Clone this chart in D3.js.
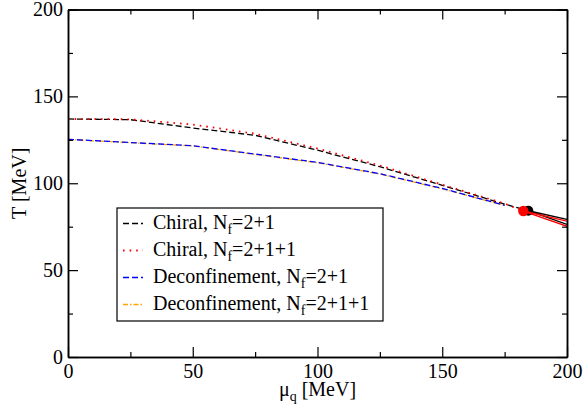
<!DOCTYPE html>
<html>
<head>
<meta charset="utf-8">
<script src="https://cdn.jsdelivr.net/npm/d3@7"></script>
<style>
  html, body { margin: 0; padding: 0; background: #fff; }
  svg text { font-family: "Liberation Serif", "Times New Roman", serif; fill: #000; }
</style>
</head>
<body>
<svg id="chart" width="583" height="410"></svg>
<script>
// ---- data ----
const muChiral21  = [0, 25, 50, 75, 100, 125, 150, 175, 184.5];
const TChiral21   = [137, 136.6, 131.8, 127.6, 119, 109.5, 98.8, 88, 84.2];
const muChiral211 = [0, 25, 50, 75, 100, 125, 150, 175, 182.5];
const TChiral211  = [137, 136.8, 133.8, 128.5, 120, 110.2, 99.2, 88.3, 84.0];
const muDeconf21  = [0, 50, 75, 100, 125, 150, 175];
const TDeconf21   = [125.3, 121.6, 116.8, 112, 105.5, 97, 87.3];
const muDeconf211 = [0, 50, 75, 100, 125, 150, 175];
const TDeconf211  = [125.2, 121.5, 116.6, 111.8, 105.3, 96.8, 87.2];
// critical end points and first-order lines
const cpMu = [184.5, 182.5];
const cpT  = [84.2, 84.0];
const firstOrderEndMu = [200, 200];
const firstOrderBlackT = [79.2, 76.3];
const firstOrderRedT   = [78.2, 75.2];

const xMajor = [0, 50, 100, 150, 200];
const xMinor = [25, 75, 125, 175];
const yMajor = [0, 50, 100, 150, 200];
const yMinor = [25, 75, 125, 175];

const legendLabels = [
  ["Chiral, N", "f", "=2+1"],
  ["Chiral, N", "f", "=2+1+1"],
  ["Deconfinement, N", "f", "=2+1"],
  ["Deconfinement, N", "f", "=2+1+1"]
];

// ---- layout ----
const svg = d3.select("#chart");
const L = 68, R = 567, T = 9.5, B = 357;
const x = d3.scaleLinear().domain([0, 200]).range([L, R]);
const y = d3.scaleLinear().domain([0, 200]).range([B, T]);

const styles = [
  {color: "#000000", dash: "6,3", width: 1.3},
  {color: "#ff0000", dash: "1.6,5", width: 1.8},
  {color: "#0000ff", dash: "6,3", width: 1.3},
  {color: "#ffa500", dash: "5,2,1.5,2", width: 1.3}
];

svg.append("clipPath").attr("id", "plotclip")
  .append("rect").attr("x", L).attr("y", T).attr("width", R - L).attr("height", B - T);

const g = svg.append("g").attr("clip-path", "url(#plotclip)");
const line = d3.line().x(d => x(d[0])).y(d => y(d[1]));
const zip = (a, b) => a.map((v, i) => [v, b[i]]);

const series = [
  {mu: muDeconf211, t: TDeconf211, s: styles[3]},
  {mu: muDeconf21,  t: TDeconf21,  s: styles[2]},
  {mu: muChiral21,  t: TChiral21,  s: styles[0]},
  {mu: muChiral211, t: TChiral211, s: styles[1]}
];
series.forEach(d => {
  g.append("path").datum(zip(d.mu, d.t))
    .attr("d", line).attr("fill", "none")
    .attr("stroke", d.s.color).attr("stroke-width", d.s.width)
    .attr("stroke-dasharray", d.s.dash);
});

// critical points and first-order lines
g.append("circle").attr("cx", x(cpMu[0])).attr("cy", y(cpT[0])).attr("r", 5).attr("fill", "#000");
firstOrderBlackT.forEach(t => {
  g.append("path").datum([[cpMu[0], cpT[0]], [firstOrderEndMu[0], t]])
    .attr("d", line).attr("fill", "none").attr("stroke", "#000").attr("stroke-width", 1.4);
});
g.append("circle").attr("cx", x(cpMu[1])).attr("cy", y(cpT[1])).attr("r", 5.2).attr("fill", "#ff0000");
firstOrderRedT.forEach(t => {
  g.append("path").datum([[cpMu[1], cpT[1]], [firstOrderEndMu[1], t]])
    .attr("d", line).attr("fill", "none").attr("stroke", "#ff0000").attr("stroke-width", 1.4);
});

// ---- axes ----
function styleAxis(sel) {
  sel.selectAll("path.domain").attr("stroke", "#000").attr("stroke-width", 1.5);
  sel.selectAll(".tick line").attr("stroke", "#000").attr("stroke-width", 1.2);
  sel.selectAll("text").attr("font-size", 20).attr("font-family", "Liberation Serif, serif").attr("fill", "#000");
}
const ax = [
  svg.append("g").attr("transform", `translate(0,${B})`)
    .call(d3.axisBottom(x).tickValues(xMajor).tickSize(-10).tickSizeOuter(0).tickPadding(7).tickFormat(d3.format("d"))),
  svg.append("g").attr("transform", `translate(0,${B})`)
    .call(d3.axisBottom(x).tickValues(xMinor).tickSize(-5).tickSizeOuter(0).tickFormat("")),
  svg.append("g").attr("transform", `translate(0,${T})`)
    .call(d3.axisTop(x).tickValues(xMajor).tickSize(-10).tickSizeOuter(0).tickFormat("")),
  svg.append("g").attr("transform", `translate(0,${T})`)
    .call(d3.axisTop(x).tickValues(xMinor).tickSize(-5).tickSizeOuter(0).tickFormat("")),
  svg.append("g").attr("transform", `translate(${L},0)`)
    .call(d3.axisLeft(y).tickValues(yMajor).tickSize(-10).tickSizeOuter(0).tickPadding(5).tickFormat(d3.format("d"))),
  svg.append("g").attr("transform", `translate(${L},0)`)
    .call(d3.axisLeft(y).tickValues(yMinor).tickSize(-5).tickSizeOuter(0).tickFormat("")),
  svg.append("g").attr("transform", `translate(${R},0)`)
    .call(d3.axisRight(y).tickValues(yMajor).tickSize(-10).tickSizeOuter(0).tickFormat("")),
  svg.append("g").attr("transform", `translate(${R},0)`)
    .call(d3.axisRight(y).tickValues(yMinor).tickSize(-5).tickSizeOuter(0).tickFormat(""))
];
ax.forEach(styleAxis);

// axis titles
const xt = svg.append("text").attr("x", (L + R) / 2).attr("y", 396)
  .attr("text-anchor", "middle").attr("font-size", 20);
xt.append("tspan").text("μ");
xt.append("tspan").attr("font-size", 14).attr("dy", 5).text("q");
xt.append("tspan").attr("dy", -5).text(" [MeV]");

svg.append("text").attr("transform", `translate(26,${(T + B) / 2}) rotate(-90)`)
  .attr("text-anchor", "middle").attr("font-size", 20).text("T [MeV]");

// ---- legend ----
const lg = svg.append("g");
lg.append("rect").attr("x", 117).attr("y", 208).attr("width", 266).attr("height", 113)
  .attr("fill", "#fff").attr("stroke", "#000").attr("stroke-width", 1.2);
legendLabels.forEach((lab, i) => {
  const base = 228.5 + i * 27;
  const s = styles[i];
  lg.append("line").attr("x1", 123).attr("x2", 143).attr("y1", base - 5).attr("y2", base - 5)
    .attr("stroke", s.color).attr("stroke-width", s.width).attr("stroke-dasharray", s.dash);
  const t = lg.append("text").attr("x", 153).attr("y", base).attr("font-size", 20);
  t.append("tspan").text(lab[0]);
  t.append("tspan").attr("font-size", 14).attr("dy", 5).text(lab[1]);
  t.append("tspan").attr("dy", -5).text(lab[2]);
});
</script>
</body>
</html>
